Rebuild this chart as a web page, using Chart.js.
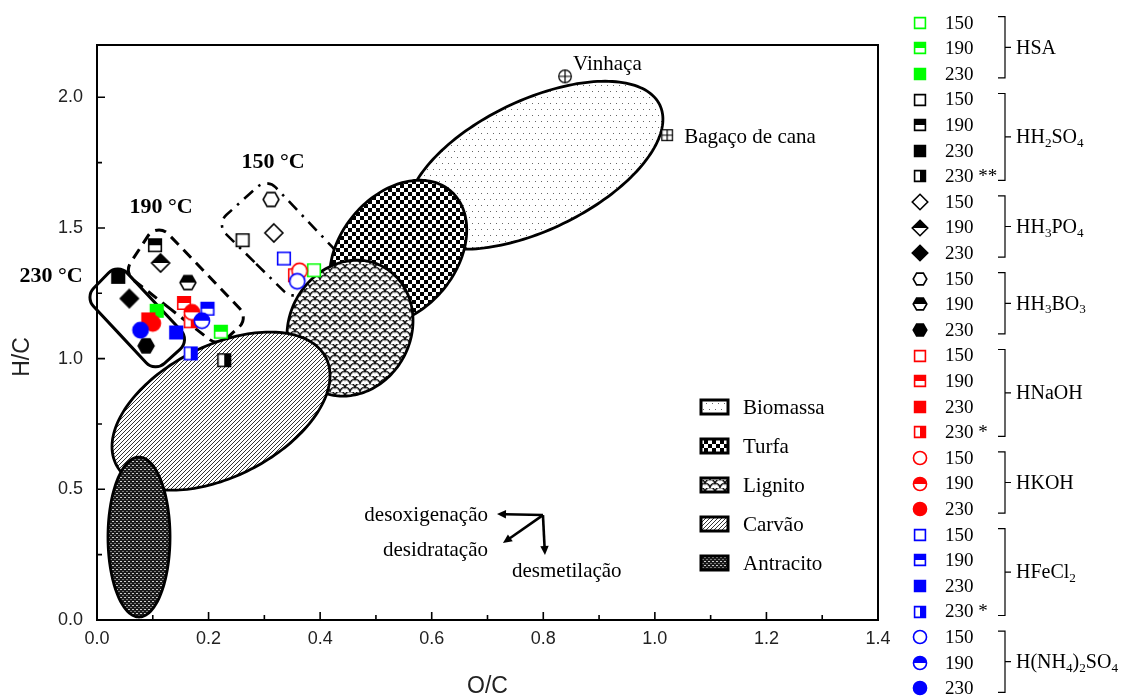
<!DOCTYPE html>
<html>
<head>
<meta charset="utf-8">
<script src="https://cdn.jsdelivr.net/npm/chart.js@4"></script>
<style>
  html, body { margin: 0; padding: 0; background: #fff; }
  #wrap { width: 1123px; height: 698px; position: relative; }
</style>
</head>
<body>
<div id="wrap"><canvas id="c"></canvas></div>
<script>
// Treatment groups (an underscore marks the next character as a subscript)
const treatments = ['HSA', 'HH_2SO_4', 'HH_3PO_4', 'HH_3BO_3', 'HNaOH', 'HKOH', 'HFeCl_2', 'H(NH_4)_2SO_4'];

// Hydrochars: group index, temperature label, O/C and H/C atomic ratios
const sampleGroup = [0, 0, 0, 1, 1, 1, 1, 2, 2, 2, 3, 3, 3, 4, 4, 4, 4, 5, 5, 5, 6, 6, 6, 6, 7, 7, 7];
const sampleLabel = ['150', '190', '230',
                     '150', '190', '230', '230 **',
                     '150', '190', '230',
                     '150', '190', '230',
                     '150', '190', '230', '230 *',
                     '150', '190', '230',
                     '150', '190', '230', '230 *',
                     '150', '190', '230'];
const sampleOC = [0.389, 0.222, 0.107,
                  0.261, 0.104, 0.038, 0.228,
                  0.317, 0.114, 0.058,
                  0.312, 0.163, 0.088,
                  0.355, 0.156, 0.092, 0.168,
                  0.363, 0.170, 0.100,
                  0.335, 0.198, 0.142, 0.168,
                  0.359, 0.188, 0.078];
const sampleHC = [1.338, 1.103, 1.183,
                  1.453, 1.434, 1.313, 0.994,
                  1.481, 1.366, 1.230,
                  1.609, 1.291, 1.049,
                  1.319, 1.213, 1.150, 1.143,
                  1.336, 1.177, 1.135,
                  1.383, 1.191, 1.100, 1.020,
                  1.296, 1.145, 1.109];

// Raw feedstocks
const refNames = ['Vinhaça', 'Bagaço de cana'];
const refOC = [0.839, 1.022];
const refHC = [2.080, 1.855];

// Coal-rank regions: centre and two conjugate half-axes, all in O/C, H/C units
const regionNames = ['Biomassa', 'Turfa', 'Lignito', 'Carvão', 'Antracito'];
const regionOC = [0.785, 0.540, 0.4535, 0.2223, 0.0753];
const regionHC = [1.740, 1.4054, 1.1166, 0.7992, 0.3174];
const regionAxisA = [[0.2238, 0.2308], [0.0931, 0.2376], [0.0587, 0.2357], [0.1880, 0.2044], [0.0, 0.3059]];
const regionAxisB = [[0.0506, -0.2234], [0.0800, -0.1428], [0.0965, -0.1095], [0.0532, -0.2228], [0.0556, 0.0]];

// Temperature zones: corner points (O/C, H/C) and label anchor
const zoneNames = ['230 °C', '190 °C', '150 °C'];
const zoneCorners = [
  [[-0.0215, 1.2352], [0.0376, 1.3652], [0.1667, 1.0707], [0.1039, 0.9484]],
  [[0.0484, 1.3289], [0.1075, 1.5220], [0.2724, 1.1549], [0.2169, 1.0478]],
  [[0.2133, 1.5143], [0.3047, 1.6902], [0.4391, 1.3881], [0.3513, 1.2237]]
];
const zoneLabelAt = [[-0.0824, 1.3155], [0.1147, 1.5793], [0.3155, 1.7514]];

// Reaction pathways
const pathOrigin = [0.7994, 0.4015];
const pathNames = ['desoxigenação', 'desidratação', 'desmetilação'];
const pathTips = [[0.7170, 0.4054], [0.7277, 0.2945], [0.8030, 0.2486]];
const pathLabelAt = [[0.7008, 0.4015], [0.7008, 0.2677], [0.7439, 0.1874]];

// Axis ticks
const xTicks = [0, 0.2, 0.4, 0.6, 0.8, 1.0, 1.2, 1.4];
const xMinor = [0.1, 0.3, 0.5, 0.7, 0.9, 1.1, 1.3];
const yTicks = [0, 0.5, 1.0, 1.5, 2.0];
const yMinor = [0.25, 0.75, 1.25, 1.75];

// ---- styles ----
const SERIF = "'Liberation Serif', 'Times New Roman', serif";
const SANS = "'Liberation Sans', Arial, sans-serif";
const groupShape = ['square', 'square', 'diamond', 'hexagon', 'square', 'circle', 'square', 'circle'];
const groupColor = ['#00ff00', '#000000', '#000000', '#000000', '#ff0000', '#ff0000', '#0000ff', '#0000ff'];
const fillByLabel = { '150': 'open', '190': 'top', '230': 'full', '230 *': 'side', '230 **': 'side' };

function shapePath(g, shape, c, k) {
  g.beginPath();
  if (shape === 'square') {
    const h = 6.3 * k;
    g.rect(c - h, c - h, 2 * h, 2 * h);
  } else if (shape === 'circle') {
    g.arc(c, c, 7.6 * k, 0, Math.PI * 2);
  } else if (shape === 'diamond') {
    const r = 9 * k;
    g.moveTo(c, c - r); g.lineTo(c + r, c); g.lineTo(c, c + r); g.lineTo(c - r, c); g.closePath();
  } else if (shape === 'hexagon') {
    const r = 7.9 * k;
    for (let j = 0; j < 6; j++) {
      const a = j * Math.PI / 3;
      const x = c + r * Math.cos(a), y = c + r * Math.sin(a);
      if (j === 0) g.moveTo(x, y); else g.lineTo(x, y);
    }
    g.closePath();
  }
}

function makeMarker(shape, color, fill, k) {
  const S = 24, c = S / 2;
  const cv = document.createElement('canvas');
  cv.width = S; cv.height = S;
  const g = cv.getContext('2d');
  shapePath(g, shape, c, k);
  g.fillStyle = fill === 'full' ? color : '#fff';
  g.fill();
  if (fill === 'top' || fill === 'side') {
    g.save();
    shapePath(g, shape, c, k);
    g.clip();
    g.fillStyle = color;
    if (fill === 'top') g.fillRect(0, 0, S, c); else g.fillRect(c, 0, S, S);
    g.restore();
  }
  shapePath(g, shape, c, k);
  g.strokeStyle = color;
  g.lineWidth = 1.6;
  g.stroke();
  return cv;
}

function makeRefMarker(kind) {
  const S = 18, c = S / 2;
  const cv = document.createElement('canvas');
  cv.width = S; cv.height = S;
  const g = cv.getContext('2d');
  g.strokeStyle = '#000'; g.lineWidth = 1.2; g.fillStyle = '#fff';
  g.beginPath();
  if (kind === 0) g.arc(c, c, 6.3, 0, Math.PI * 2); else g.rect(c - 5.3, c - 5.3, 10.6, 10.6);
  g.fill(); g.stroke();
  const r = kind === 0 ? 6.3 : 5.3;
  g.beginPath();
  g.moveTo(c - r, c); g.lineTo(c + r, c);
  g.moveTo(c, c - r); g.lineTo(c, c + r);
  g.stroke();
  return cv;
}

const sampleMarkers = sampleGroup.map((gi, i) => makeMarker(groupShape[gi], groupColor[gi], fillByLabel[sampleLabel[i]], 1));
const legendMarkers = sampleGroup.map((gi, i) => makeMarker(groupShape[gi], groupColor[gi], fillByLabel[sampleLabel[i]], 0.86));
const refMarkers = refNames.map((n, i) => makeRefMarker(i));

// ---- fill patterns for the regions ----
function tile(w, h, draw) {
  const cv = document.createElement('canvas');
  cv.width = w; cv.height = h;
  const g = cv.getContext('2d');
  draw(g, w, h);
  return cv;
}
const patternTiles = [
  tile(6, 12, (g, w, h) => {
    g.fillStyle = '#fff'; g.fillRect(0, 0, w, h);
    g.fillStyle = '#666'; g.fillRect(1, 1, 1, 1); g.fillRect(4, 7, 1, 1);
  }),
  tile(8, 8, (g, w, h) => {
    g.fillStyle = '#fff'; g.fillRect(0, 0, w, h);
    g.fillStyle = '#000'; g.fillRect(0, 0, 4, 4); g.fillRect(4, 4, 4, 4);
  }),
  tile(10, 8, (g, w, h) => {
    g.fillStyle = '#fff'; g.fillRect(0, 0, w, h);
    g.lineWidth = 1.2;
    const arcs = [[5, 8], [0, 4], [10, 4], [5, 0]];
    g.strokeStyle = '#999';
    arcs.forEach(([x, y]) => { g.beginPath(); g.arc(x, y + 1.2, 5, Math.PI, 2 * Math.PI); g.stroke(); });
    g.strokeStyle = '#111';
    arcs.forEach(([x, y]) => { g.beginPath(); g.arc(x, y, 5, Math.PI, 2 * Math.PI); g.stroke(); });
  }),
  tile(4, 4, (g, w, h) => {
    g.fillStyle = '#fff'; g.fillRect(0, 0, w, h);
    g.strokeStyle = '#333'; g.lineWidth = 1;
    g.beginPath();
    g.moveTo(-1, 5); g.lineTo(5, -1);
    g.moveTo(-1, 1); g.lineTo(1, -1);
    g.moveTo(3, 5); g.lineTo(5, 3);
    g.stroke();
  }),
  tile(4, 4, (g, w, h) => {
    g.fillStyle = '#1a1a1a'; g.fillRect(0, 0, w, h);
    g.fillStyle = '#cfcfcf'; g.fillRect(0, 1, 2, 1);
    g.fillStyle = '#7a7a7a'; g.fillRect(2, 3, 2, 1);
  })
];

// ---- helpers ----
function drawRich(ctx, text, x, y, size) {
  // draws text where "_c" renders c as a subscript; left aligned, middle baseline
  const parts = [];
  for (let i = 0; i < text.length; i++) {
    if (text[i] === '_' && i + 1 < text.length) { parts.push([text[i + 1], true]); i++; }
    else parts.push([text[i], false]);
  }
  let cx = x;
  ctx.textBaseline = 'middle';
  ctx.textAlign = 'left';
  parts.forEach(([ch, sub]) => {
    ctx.font = (sub ? size * 0.66 : size) + 'px ' + SERIF;
    ctx.fillText(ch, cx, sub ? y + size * 0.28 : y);
    cx += ctx.measureText(ch).width;
  });
}

function roundedPoly(ctx, pts, r) {
  const n = pts.length;
  const mid = (a, b) => [(a[0] + b[0]) / 2, (a[1] + b[1]) / 2];
  const start = mid(pts[n - 1], pts[0]);
  ctx.beginPath();
  ctx.moveTo(start[0], start[1]);
  for (let i = 0; i < n; i++) {
    const p = pts[i], q = pts[(i + 1) % n];
    ctx.arcTo(p[0], p[1], q[0], q[1], r);
  }
  ctx.closePath();
}

function arrow(ctx, x0, y0, x1, y1) {
  const ang = Math.atan2(y1 - y0, x1 - x0);
  const L = 9, W = 4.2;
  ctx.beginPath();
  ctx.moveTo(x0, y0);
  ctx.lineTo(x1 - (L - 1) * Math.cos(ang), y1 - (L - 1) * Math.sin(ang));
  ctx.stroke();
  ctx.beginPath();
  ctx.moveTo(x1, y1);
  ctx.lineTo(x1 - L * Math.cos(ang) - W * Math.sin(ang), y1 - L * Math.sin(ang) + W * Math.cos(ang));
  ctx.lineTo(x1 - L * Math.cos(ang) + W * Math.sin(ang), y1 - L * Math.sin(ang) - W * Math.cos(ang));
  ctx.closePath();
  ctx.fill();
}

// ---- datasets ----
const datasets = [];
sampleOC.forEach((x, i) => {
  datasets.push({
    label: treatments[sampleGroup[i]] + ' ' + sampleLabel[i],
    data: [{ x: x, y: sampleHC[i] }],
    pointStyle: sampleMarkers[i],
    pointRadius: 7,
    order: -i
  });
});
refOC.forEach((x, i) => {
  datasets.push({
    label: refNames[i],
    data: [{ x: x, y: refHC[i] }],
    pointStyle: refMarkers[i],
    pointRadius: 6,
    order: -100 - i
  });
});

const background = {
  id: 'background',
  beforeDraw(chart) {
    const ctx = chart.ctx;
    ctx.save();
    ctx.fillStyle = '#fff';
    ctx.fillRect(0, 0, chart.width, chart.height);
    ctx.restore();
  }
};

const diagram = {
  id: 'diagram',
  beforeDatasetsDraw(chart) {
    const ctx = chart.ctx, xs = chart.scales.x, ys = chart.scales.y, a = chart.chartArea;
    const px = v => xs.getPixelForValue(v), py = v => ys.getPixelForValue(v);
    ctx.save();

    // temperature zones
    const zoneDash = [[], [11, 7], [12, 7, 2.5, 7]];
    const zoneWidth = [3, 3, 2.6];
    zoneCorners.forEach((pts, i) => {
      const pp = pts.map(p => [px(p[0]), py(p[1])]);
      ctx.setLineDash(zoneDash[i]);
      ctx.lineWidth = zoneWidth[i];
      ctx.strokeStyle = '#000';
      roundedPoly(ctx, pp, 13);
      ctx.stroke();
    });
    ctx.setLineDash([]);

    // coal-rank regions
    regionNames.forEach((name, i) => {
      const cx = px(regionOC[i]), cy = py(regionHC[i]);
      const ux = px(regionOC[i] + regionAxisA[i][0]) - cx, uy = py(regionHC[i] + regionAxisA[i][1]) - cy;
      const vx = px(regionOC[i] + regionAxisB[i][0]) - cx, vy = py(regionHC[i] + regionAxisB[i][1]) - cy;
      ctx.beginPath();
      const N = 180;
      for (let k = 0; k <= N; k++) {
        const t = k / N * Math.PI * 2;
        const x = cx + ux * Math.cos(t) + vx * Math.sin(t);
        const y = cy + uy * Math.cos(t) + vy * Math.sin(t);
        if (k === 0) ctx.moveTo(x, y); else ctx.lineTo(x, y);
      }
      ctx.closePath();
      ctx.fillStyle = ctx.createPattern(patternTiles[i], 'repeat');
      ctx.fill();
      ctx.lineWidth = 2.8;
      ctx.strokeStyle = '#000';
      ctx.stroke();
    });

    // frame and inward ticks
    ctx.lineWidth = 2;
    ctx.strokeStyle = '#000';
    ctx.strokeRect(a.left, a.top, a.right - a.left, a.bottom - a.top);
    ctx.lineWidth = 1.6;
    ctx.beginPath();
    xTicks.forEach(v => { const x = px(v); ctx.moveTo(x, a.bottom); ctx.lineTo(x, a.bottom - 8); });
    xMinor.forEach(v => { const x = px(v); ctx.moveTo(x, a.bottom); ctx.lineTo(x, a.bottom - 5); });
    yTicks.forEach(v => { const y = py(v); ctx.moveTo(a.left, y); ctx.lineTo(a.left + 8, y); });
    yMinor.forEach(v => { const y = py(v); ctx.moveTo(a.left, y); ctx.lineTo(a.left + 5, y); });
    ctx.stroke();
    ctx.restore();
  },
  afterDatasetsDraw(chart) {
    const ctx = chart.ctx, xs = chart.scales.x, ys = chart.scales.y, a = chart.chartArea;
    const px = v => xs.getPixelForValue(v), py = v => ys.getPixelForValue(v);
    ctx.save();
    ctx.fillStyle = '#000';
    ctx.strokeStyle = '#000';

    // zone labels
    ctx.font = 'bold 22px ' + SERIF;
    ctx.textAlign = 'center';
    ctx.textBaseline = 'middle';
    zoneNames.forEach((t, i) => ctx.fillText(t, px(zoneLabelAt[i][0]), py(zoneLabelAt[i][1])));

    // feedstock labels
    ctx.font = '21px ' + SERIF;
    ctx.textAlign = 'left';
    ctx.fillText(refNames[0], px(refOC[0]) + 8, py(refHC[0]) - 12);
    ctx.fillText(refNames[1], px(refOC[1]) + 17, py(refHC[1]) + 2);

    // reaction pathway arrows
    ctx.lineWidth = 2.6;
    const ox = px(pathOrigin[0]), oy = py(pathOrigin[1]);
    pathTips.forEach(t => arrow(ctx, ox, oy, px(t[0]), py(t[1])));
    ctx.font = '21px ' + SERIF;
    ctx.textAlign = 'right';
    ctx.fillText(pathNames[0], px(pathLabelAt[0][0]), py(pathLabelAt[0][1]));
    ctx.fillText(pathNames[1], px(pathLabelAt[1][0]), py(pathLabelAt[1][1]));
    ctx.textAlign = 'left';
    ctx.fillText(pathNames[2], px(pathLabelAt[2][0]), py(pathLabelAt[2][1]));

    // region legend
    regionNames.forEach((name, i) => {
      const bx = a.left + 604, by = a.top + 355 + i * 39;
      ctx.fillStyle = ctx.createPattern(patternTiles[i], 'repeat');
      ctx.fillRect(bx, by, 27, 14);
      ctx.lineWidth = 3;
      ctx.strokeRect(bx, by, 27, 14);
      ctx.fillStyle = '#000';
      ctx.font = '21px ' + SERIF;
      ctx.textAlign = 'left';
      ctx.textBaseline = 'middle';
      ctx.fillText(name, bx + 42, by + 8);
    });

    // treatment legend
    const mx = a.right + 42, tx = a.right + 67;
    const rowY = i => 22.7 + i * 25.6;
    ctx.textBaseline = 'middle';
    sampleLabel.forEach((lab, i) => {
      const m = legendMarkers[i];
      ctx.drawImage(m, Math.round(mx - m.width / 2), Math.round(rowY(i) - m.height / 2));
      ctx.font = '19px ' + SERIF;
      ctx.textAlign = 'left';
      ctx.fillText(lab, tx, rowY(i) + 1);
    });
    ctx.lineWidth = 1.2;
    treatments.forEach((name, gi) => {
      const rows = sampleGroup.map((g, i) => g === gi ? i : -1).filter(i => i >= 0);
      const y0 = rowY(rows[0]) - 6, y1 = rowY(rows[rows.length - 1]) + 4;
      const bx = a.right + 127, ym = (y0 + y1) / 2;
      ctx.beginPath();
      ctx.moveTo(bx - 7, y0); ctx.lineTo(bx, y0); ctx.lineTo(bx, y1); ctx.lineTo(bx - 7, y1);
      ctx.moveTo(bx, ym); ctx.lineTo(bx + 6, ym);
      ctx.stroke();
      drawRich(ctx, name, bx + 11, ym + 1, 20);
    });

    // axis titles
    ctx.font = '23px ' + SANS;
    ctx.fillStyle = '#222';
    ctx.textAlign = 'center';
    ctx.textBaseline = 'middle';
    ctx.fillText('O/C', (a.left + a.right) / 2, a.bottom + 67);
    ctx.save();
    ctx.translate(23, a.top + 312);
    ctx.rotate(-Math.PI / 2);
    ctx.fillText('H/C', 0, 0);
    ctx.restore();
    ctx.restore();
  }
};

new Chart(document.getElementById('c'), {
  type: 'scatter',
  data: { datasets: datasets },
  options: {
    responsive: true,
    maintainAspectRatio: false,
    animation: false,
    events: [],
    layout: { padding: { top: 45, right: 245, left: 0, bottom: 0 } },
    plugins: { legend: { display: false }, tooltip: { enabled: false } },
    scales: {
      x: {
        type: 'linear', min: 0, max: 1.4,
        afterBuildTicks: s => { s.ticks = xTicks.map(v => ({ value: v })); },
        afterFit: s => { s.height = 78; },
        grid: { display: false, drawTicks: false },
        border: { display: false },
        ticks: {
          padding: 8, autoSkip: false, maxRotation: 0,
          color: '#222', font: { family: SANS, size: 18 },
          callback: v => Number(v).toFixed(1)
        }
      },
      y: {
        type: 'linear', min: 0, max: 2.2,
        afterBuildTicks: s => { s.ticks = yTicks.map(v => ({ value: v })); },
        afterFit: s => { s.width = 97; },
        grid: { display: false, drawTicks: false },
        border: { display: false },
        ticks: {
          padding: 14,
          color: '#222', font: { family: SANS, size: 18 },
          callback: v => Number(v).toFixed(1)
        }
      }
    }
  },
  plugins: [background, diagram]
});
</script>
</body>
</html>
